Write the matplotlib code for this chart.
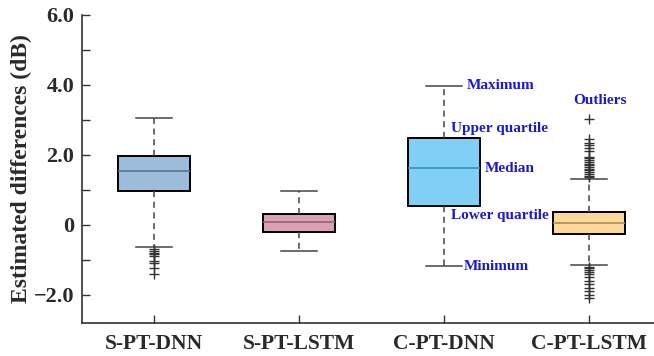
import matplotlib
matplotlib.use("Agg")
import matplotlib.pyplot as plt
from matplotlib.ticker import MultipleLocator

labels = ["S-PT-DNN", "S-PT-LSTM", "C-PT-DNN", "C-PT-LSTM"]
whislo = [-0.64, -0.75, -1.19, -1.14]
q1 = [0.95, -0.20, 0.53, -0.26]
med = [1.54, 0.07, 1.62, 0.06]
q3 = [1.96, 0.31, 2.47, 0.36]
whishi = [3.06, 0.95, 3.98, 1.31]
fliers = [
    [-0.70, -0.75, -0.80, -0.85, -0.90, -1.05, -1.10, -1.25, -1.40],
    [],
    [],
    [3.03, 2.44, 2.35, 2.28, 2.20, 2.10, 1.95, 1.90, 1.85, 1.80, 1.75, 1.70,
     1.65, 1.60, 1.55, 1.50, 1.45, 1.40, 1.35,
     -1.20, -1.25, -1.30, -1.35, -1.40, -1.50, -1.60, -1.70, -1.80, -1.90,
     -2.00, -2.10],
]
face = ["#9dbcdb", "#d9a1b5", "#80d0f6", "#fdd89b"]
median_c = ["#4f7497", "#9b5f74", "#3d8fb3", "#b08c52"]

plt.rcParams["font.family"] = ["Liberation Serif", "DejaVu Serif"]
plt.rcParams["font.weight"] = "bold"

fig = plt.figure(figsize=(6.54, 3.56), dpi=100)
ax = fig.add_axes([0.125, 0.094, 0.875, 0.864])

stats = [dict(whislo=whislo[i], q1=q1[i], med=med[i], q3=q3[i],
              whishi=whishi[i], fliers=fliers[i], label=labels[i])
         for i in range(4)]
bp = ax.bxp(stats, positions=[1, 2, 3, 4], widths=0.5, patch_artist=True,
            boxprops=dict(edgecolor="black", linewidth=1.4),
            whiskerprops=dict(color="#444444", linestyle=(0, (4, 3)), linewidth=1.1),
            capprops=dict(color="#444444", linewidth=1.1),
            flierprops=dict(marker="+", markeredgecolor="#333333", markersize=7,
                            markeredgewidth=1.0, linestyle="none"),
            medianprops=dict(linewidth=1.2))
for i, b in enumerate(bp["boxes"]):
    b.set_facecolor(face[i])
for i, m in enumerate(bp["medians"]):
    m.set_color(median_c[i])

ax.set_xlim(0.5, 4.45)
ax.set_ylim(-2.8, 6.0)
ax.set_yticks([-2, 0, 2, 4, 6])
ax.set_yticklabels(["\u22122.0", "0", "2.0", "4.0", "6.0"])
ax.yaxis.set_minor_locator(MultipleLocator(1.0))
ax.tick_params(direction="in", length=6, width=1, colors="#333333", labelsize=16, labelcolor="#2a2a2a")
ax.tick_params(which="minor", direction="in", length=6, width=1, colors="#333333")
ax.tick_params(axis="y", pad=5.5)
ax.tick_params(axis="x", labelsize=15.5, pad=8)
for s in ["top", "right"]:
    ax.spines[s].set_visible(False)
for s in ["left", "bottom"]:
    ax.spines[s].set_color("#333333")
    ax.spines[s].set_linewidth(1.2)
ax.set_ylabel("Estimated differences (dB)", fontsize=17, fontweight="bold", color="#2a2a2a", labelpad=1)

blue = "#1a1ad0"
kw = dict(color=blue, fontsize=11, fontweight="bold", va="center")
ax.text(3.16, 3.98, "Maximum", ha="left", **kw)
ax.text(3.05, 2.75, "Upper quartile", ha="left", **kw)
ax.text(3.28, 1.62, "Median", ha="left", **kw)
ax.text(3.05, 0.25, "Lower quartile", ha="left", **kw)
ax.text(3.14, -1.19, "Minimum", ha="left", **kw)
ax.text(4.08, 3.55, "Outliers", ha="center", **kw)

fig.savefig("out.png", dpi=100)
